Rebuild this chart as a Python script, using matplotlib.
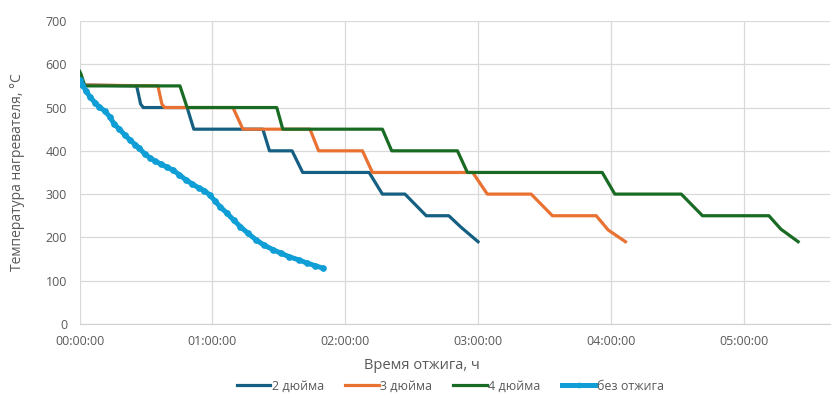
"""Heater temperature vs annealing time for different ingot sizes."""

import matplotlib
matplotlib.use("Agg")

import matplotlib.pyplot as plt
from matplotlib.ticker import FuncFormatter, MultipleLocator

plt.rcParams["font.family"] = ["Open Sans", "DejaVu Sans"]

# time in hours, temperature in deg C
t_2in = [0.0, 0.03, 0.43, 0.46, 0.48, 0.81, 0.86, 1.38, 1.43, 1.60, 1.68,
         2.18, 2.28, 2.45, 2.61, 2.78, 2.87, 3.00]
T_2in = [582, 552, 550, 508, 500, 500, 450, 450, 400, 400, 350,
         350, 300, 300, 250, 250, 224, 190]

t_3in = [0.0, 0.03, 0.59, 0.62, 0.64, 1.155, 1.23, 1.735, 1.80, 2.13, 2.205,
         2.96, 3.07, 3.40, 3.56, 3.89, 3.98, 4.11]
T_3in = [582, 552, 550, 508, 500, 500, 450, 450, 400, 400, 350,
         350, 300, 300, 250, 250, 217, 190]

t_4in = [0.0, 0.01, 0.04, 0.756, 0.81, 1.485, 1.53, 2.28, 2.35, 2.845, 2.92,
         3.935, 4.03, 4.53, 4.69, 5.19, 5.28, 5.41]
T_4in = [584, 578, 550, 550, 500, 500, 450, 450, 400, 400, 350,
         350, 300, 300, 250, 250, 219, 190]

t_none = [0.0, 0.02, 0.05, 0.08, 0.12, 0.15, 0.19, 0.23, 0.26, 0.30, 0.34,
          0.38, 0.42, 0.45, 0.49, 0.53, 0.57, 0.61, 0.66, 0.70, 0.75, 0.80,
          0.85, 0.90, 0.94, 0.98, 1.02, 1.06, 1.11, 1.16, 1.21, 1.27, 1.33,
          1.39, 1.46, 1.52, 1.58, 1.65, 1.71, 1.77, 1.83]
T_none = [563, 553, 538, 524, 510, 501, 492, 478, 462, 450, 437,
          425, 414, 406, 393, 384, 376, 370, 362, 356, 345, 333,
          323, 314, 308, 298, 284, 270, 256, 240, 225, 209, 194,
          182, 171, 163, 155, 148, 141, 135, 129]

series = [
    ("2 дюйма", t_2in, T_2in, "#156082"),
    ("3 дюйма", t_3in, T_3in, "#E97132"),
    ("4 дюйма", t_4in, T_4in, "#196B24"),
]

gray = "#595959"

fig = plt.figure(figsize=(8.32, 3.96), dpi=100)
ax = fig.add_axes([0.0956, 0.182, 0.902, 0.765])

for name, t, T, c in series:
    ax.plot(t, T, color=c, lw=2.3, label=name, solid_joinstyle="round")
ax.plot(t_none, T_none, color="#0F9ED5", lw=3.6, marker="o", ms=3.8,
        label="без отжига")

ax.set_xlim(0, 5.65)
ax.set_ylim(0, 700)
ax.xaxis.set_major_locator(MultipleLocator(1))
ax.yaxis.set_major_locator(MultipleLocator(100))
ax.xaxis.set_major_formatter(FuncFormatter(lambda v, p: f"{int(round(v)):02d}:00:00"))
ax.grid(color="#D9D9D9", lw=0.9)
ax.set_axisbelow(True)
for s in ["top", "right", "left"]:
    ax.spines[s].set_visible(False)
ax.spines["bottom"].set_color("#D0D0D0")
ax.tick_params(length=0, labelsize=9, labelcolor=gray)
ax.tick_params(axis="y", pad=9)
ax.tick_params(axis="x", pad=8)

fig.text(0.507, 0.078, "Время отжига, ч", ha="center", va="center",
         fontsize=10.5, color=gray)
fig.text(0.021, 0.565, "Температура нагревателя, °C", ha="center",
         va="center", rotation=90, fontsize=10, color=gray)

fig.legend(loc="center", bbox_to_anchor=(0.541, 0.025), ncol=4, frameon=False,
           fontsize=9, labelcolor=gray, handlelength=2.7, handletextpad=0.1,
           columnspacing=1.7, markerscale=0.8)

fig.savefig("out.png", dpi=100)
